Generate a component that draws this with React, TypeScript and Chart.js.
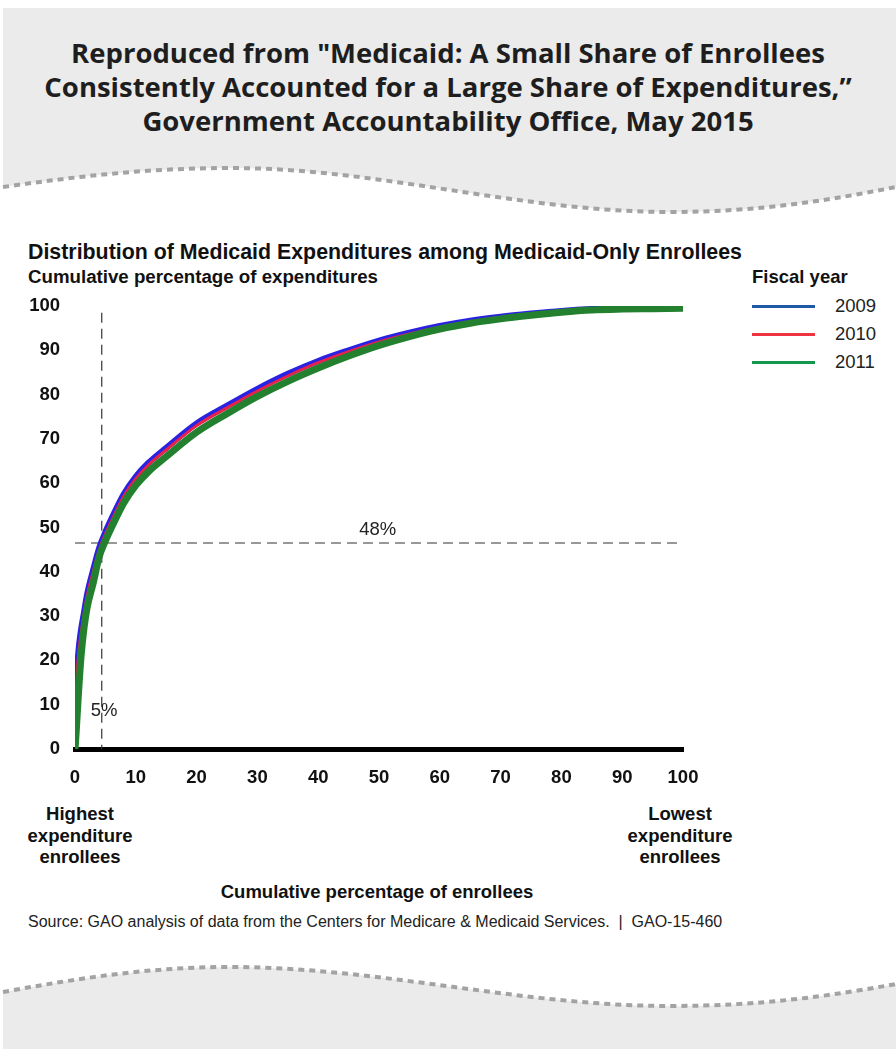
import React, { useEffect, useRef } from "react";
import { Chart, registerables } from "chart.js";

Chart.register(...registerables);

// ---- Data ----
const enrolleePct = [0, 0.2, 0.5, 1, 1.5, 2, 3, 4, 5, 6, 8, 10, 12, 15, 20, 25, 30, 35, 40, 45, 50, 55, 60, 65, 70, 75, 80, 85, 90, 95, 100];
const expend2009 = [0, 13, 21, 27, 31, 35, 40.5, 45.5, 49, 52, 57.5, 61.5, 64.5, 68, 73.5, 77.5, 81.3, 84.7, 87.6, 90, 92.2, 94, 95.5, 96.7, 97.6, 98.3, 98.9, 99.3, 99.5, 99.6, 99.7];
const expend2010 = [0, 12, 20, 26, 30.5, 34.5, 40, 45, 48.5, 51.5, 57, 61, 64, 67.5, 73, 77, 80.8, 84.2, 87.2, 89.7, 91.9, 93.7, 95.2, 96.4, 97.4, 98.1, 98.7, 99.2, 99.4, 99.6, 99.7];
const expend2011 = [0, 4, 11, 21, 27.5, 32, 37.5, 43.5, 47, 50, 55.5, 59.5, 62.5, 66, 71.5, 75.7, 79.6, 83, 86, 88.7, 91.1, 93.1, 94.8, 96.1, 97.1, 97.9, 98.6, 99.1, 99.3, 99.4, 99.5];
const fiscalYears = ["2009", "2010", "2011"];
const markerEnrollees = 4.4; // vertical reference line ("5%")
const markerExpenditure = 46.5; // horizontal reference line ("48%")
const markerLabels = ["5%", "48%"];

const curveColors = ["#2a22e2", "#e8204c", "#22802e"];
const legendColors = ["#1f5aa6", "#ef3340", "#14994a"];
const curveWidths = [6, 3, 7];
const curveOrder = [3, 2, 1];

const SANS = '"Liberation Sans", Arial, sans-serif';
const TITLE_FONT = '"Open Sans", "Noto Sans", sans-serif';

const toPoints = (ys: number[]) => enrolleePct.map((x, i) => ({ x, y: ys[i] }));

const markerPlugin = {
  id: "markers",
  beforeDatasetsDraw(chart: any) {
    const { ctx, scales } = chart;
    const xs = scales.x;
    const ys = scales.y;
    ctx.save();
    ctx.strokeStyle = "#333";
    ctx.lineWidth = 1.2;
    ctx.setLineDash([10, 6]);
    const vx = xs.getPixelForValue(markerEnrollees);
    ctx.beginPath();
    ctx.moveTo(vx, ys.getPixelForValue(98.5));
    ctx.lineTo(vx, ys.getPixelForValue(0));
    ctx.stroke();
    const hy = ys.getPixelForValue(markerExpenditure);
    ctx.beginPath();
    ctx.moveTo(xs.getPixelForValue(0), hy);
    ctx.lineTo(xs.getPixelForValue(100), hy);
    ctx.stroke();
    ctx.setLineDash([]);
    ctx.fillStyle = "#222";
    ctx.font = `18.5px ${SANS}`;
    ctx.textAlign = "center";
    ctx.textBaseline = "middle";
    ctx.fillText(markerLabels[0], xs.getPixelForValue(4.8), ys.getPixelForValue(8.7));
    ctx.fillText(markerLabels[1], xs.getPixelForValue(49.8), ys.getPixelForValue(49.4));
    ctx.restore();
  },
};

function CurveChart() {
  const ref = useRef<HTMLCanvasElement | null>(null);
  useEffect(() => {
    if (!ref.current) return;
    const series = [expend2009, expend2010, expend2011];
    const chart = new Chart(ref.current, {
      type: "line",
      data: {
        datasets: series.map((ys, i) => ({
          label: fiscalYears[i],
          data: toPoints(ys),
          borderColor: curveColors[i],
          backgroundColor: curveColors[i],
          borderWidth: curveWidths[i],
          pointRadius: 0,
          cubicInterpolationMode: "monotone" as const,
          order: curveOrder[i],
          fill: false,
        })),
      },
      options: {
        animation: false,
        responsive: false,
        maintainAspectRatio: false,
        devicePixelRatio: 1,
        layout: { padding: { top: 16, right: 57, left: 0, bottom: 0 } },
        plugins: { legend: { display: false }, tooltip: { enabled: false } },
        scales: {
          x: {
            type: "linear",
            min: 0,
            max: 100,
            grid: { display: false, drawTicks: false },
            border: { display: true, width: 5, color: "#000" },
            ticks: {
              stepSize: 10,
              padding: 18,
              color: "#111",
              font: { family: SANS, size: 18.5, weight: "bold" },
              maxRotation: 0,
            },
            afterFit: (s: any) => {
              s.height = 41;
              s.paddingLeft = 0;
              s.paddingRight = 0;
            },
          },
          y: {
            type: "linear",
            min: 0,
            max: 100,
            grid: { display: false, drawTicks: false },
            border: { display: false },
            ticks: {
              stepSize: 10,
              padding: 15,
              color: "#111",
              font: { family: SANS, size: 18.5, weight: "bold" },
            },
            afterFit: (s: any) => {
              s.width = 75;
              s.paddingTop = 0;
              s.paddingBottom = 0;
            },
          },
        },
      },
      plugins: [markerPlugin],
    });
    return () => chart.destroy();
  }, []);
  return (
    <canvas
      ref={ref}
      width={740}
      height={500}
      style={{ position: "absolute", left: 0, top: 290, width: 740, height: 500 }}
    />
  );
}

const abs = (o: React.CSSProperties): React.CSSProperties => ({ position: "absolute", margin: 0, ...o });

const WAVE_TOP = "M3,187 C80,176 150,168 230,168 C380,168 520,212 670,212 C760,212 830,200 896,187";
const WAVE_BOTTOM = "M3,992 C80,978 150,967 230,967 C380,967 520,1006 670,1006 C760,1006 830,996 896,984";

export default function App() {
  return (
    <div style={{ position: "relative", width: 896, height: 1049, overflow: "hidden", background: "#fff" }}>
      <style>{`body{margin:0}`}</style>
      <svg width={896} height={1049} style={{ position: "absolute", left: 0, top: 0 }}>
        <path
          d="M3,8 L896,8 L896,187 C830,200 760,212 670,212 C520,212 380,168 230,168 C150,168 80,176 3,187 Z"
          fill="#ebebeb"
        />
        <path d={WAVE_TOP} fill="none" stroke="#a3a3a3" strokeWidth={4} strokeDasharray="6 5" />
        <path d={WAVE_BOTTOM + " L896,1049 L3,1049 Z"} fill="#ebebeb" />
        <path d={WAVE_BOTTOM} fill="none" stroke="#a3a3a3" strokeWidth={4} strokeDasharray="6 5" />
      </svg>
      <div
        style={abs({
          left: 0,
          width: 896,
          top: 36,
          textAlign: "center",
          fontFamily: TITLE_FONT,
          fontWeight: 700,
          fontSize: 27.5,
          lineHeight: "34px",
          color: "#1e1e1e",
        })}
      >
        Reproduced from "Medicaid: A Small Share of Enrollees
        <br />
        Consistently Accounted for a Large Share of Expenditures,”
        <br />
        Government Accountability Office, May 2015
      </div>
      <div style={abs({ left: 28, top: 240, fontFamily: SANS, fontWeight: 700, fontSize: 21.35, lineHeight: "24px", color: "#111", whiteSpace: "nowrap" })}>
        Distribution of Medicaid Expenditures among Medicaid-Only Enrollees
      </div>
      <div style={abs({ left: 28, top: 266, fontFamily: SANS, fontWeight: 700, fontSize: 18.7, lineHeight: "22px", color: "#111", whiteSpace: "nowrap" })}>
        Cumulative percentage of expenditures
      </div>
      <div style={abs({ left: 752, top: 266, fontFamily: SANS, fontWeight: 700, fontSize: 18.5, lineHeight: "22px", color: "#111", whiteSpace: "nowrap" })}>
        Fiscal year
      </div>
      {fiscalYears.map((yr, i) => {
        const cy = [306, 334, 362][i];
        return (
          <React.Fragment key={yr}>
            <div style={abs({ left: 752, top: cy - 1.5, width: 63, height: 3, background: legendColors[i] })} />
            <div style={abs({ left: 835, top: cy - 11, fontFamily: SANS, fontSize: 18.5, lineHeight: "22px", color: "#222" })}>{yr}</div>
          </React.Fragment>
        );
      })}
      <CurveChart />
      <div style={abs({ left: 0, width: 160, top: 803, textAlign: "center", fontFamily: SANS, fontWeight: 700, fontSize: 18.5, lineHeight: "21.5px", color: "#111" })}>
        Highest
        <br />
        expenditure
        <br />
        enrollees
      </div>
      <div style={abs({ left: 600, width: 160, top: 803, textAlign: "center", fontFamily: SANS, fontWeight: 700, fontSize: 18.5, lineHeight: "21.5px", color: "#111" })}>
        Lowest
        <br />
        expenditure
        <br />
        enrollees
      </div>
      <div style={abs({ left: 177, width: 400, top: 881, textAlign: "center", fontFamily: SANS, fontWeight: 700, fontSize: 18.5, lineHeight: "22px", color: "#111" })}>
        Cumulative percentage of enrollees
      </div>
      <div style={abs({ left: 28, top: 912, fontFamily: SANS, fontSize: 16, lineHeight: "20px", color: "#222", whiteSpace: "pre" })}>
        {"Source: GAO analysis of data from the Centers for Medicare & Medicaid Services.  |  GAO-15-460"}
      </div>
    </div>
  );
}
